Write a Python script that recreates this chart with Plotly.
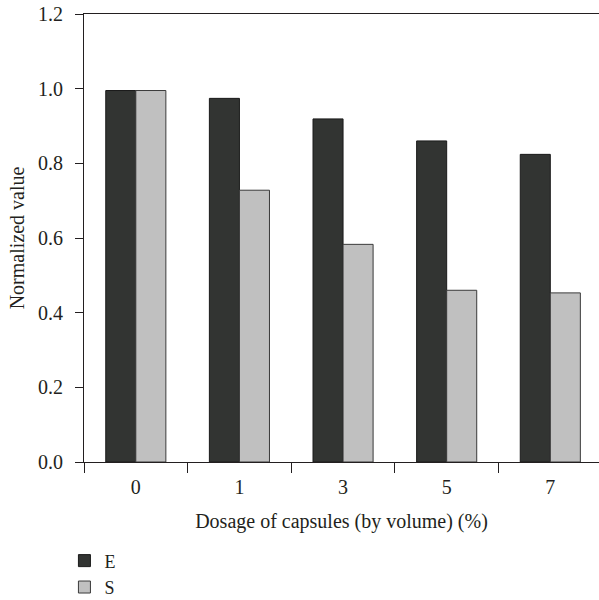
import plotly.graph_objects as go

categories = ["0", "1", "3", "5", "7"]
values_E = [0.995, 0.974, 0.919, 0.860, 0.824]
values_S = [0.995, 0.728, 0.583, 0.460, 0.453]
series_names = ["E", "S"]
y_ticks = [0.0, 0.2, 0.4, 0.6, 0.8, 1.0, 1.2]
y_tick_labels = ["0.0", "0.2", "0.4", "0.6", "0.8", "1.0", "1.2"]

FONT = "Liberation Serif"
INK = "#231f20"
FS = 20

fig = go.Figure()
fig.add_trace(go.Bar(x=categories, y=values_E, name=series_names[0],
                     marker=dict(color="#323432", line=dict(color="#1a1a1a", width=1))))
fig.add_trace(go.Bar(x=categories, y=values_S, name=series_names[1],
                     marker=dict(color="#c0c0c0", line=dict(color="#3a3a3a", width=1))))

fig.update_layout(
    width=599, height=600,
    margin=dict(l=84, r=0, t=14, b=138, autoexpand=False),
    paper_bgcolor="white", plot_bgcolor="white",
    barmode="group", bargap=0.42, bargroupgap=0,
    font=dict(family=FONT, size=FS, color=INK),
    showlegend=True,
    legend=dict(x=-0.038, xanchor="left", y=-0.1795, yanchor="top",
                orientation="v", font=dict(family=FONT, size=18, color=INK),
                tracegroupgap=0, bgcolor="rgba(0,0,0,0)"),
    xaxis=dict(type="category", range=[-0.5, 4.47],
               showline=True, linecolor=INK, linewidth=1, mirror=True,
               ticks="outside", ticklen=10, tickcolor=INK, tickson="boundaries",
               ticklabelstandoff=7,
               showgrid=False, zeroline=False,
               title=dict(text="Dosage of capsules (by volume) (%)", standoff=16,
                          font=dict(family=FONT, size=FS, color=INK)),
               tickfont=dict(family=FONT, size=FS, color=INK)),
    yaxis=dict(range=[0, 1.2], tickvals=y_ticks, ticktext=y_tick_labels,
               showline=True, linecolor=INK, linewidth=1,
               ticks="outside", ticklen=8, tickcolor=INK,
               ticklabelstandoff=8, ticklabeloverflow="allow",
               showgrid=False, zeroline=False,
               title=dict(text="Normalized value", standoff=8,
                          font=dict(family=FONT, size=FS, color=INK)),
               tickfont=dict(family=FONT, size=FS, color=INK)),
)

fig.write_html("out.html", config={"displayModeBar": False},
               post_script="document.body.style.margin='0';")
